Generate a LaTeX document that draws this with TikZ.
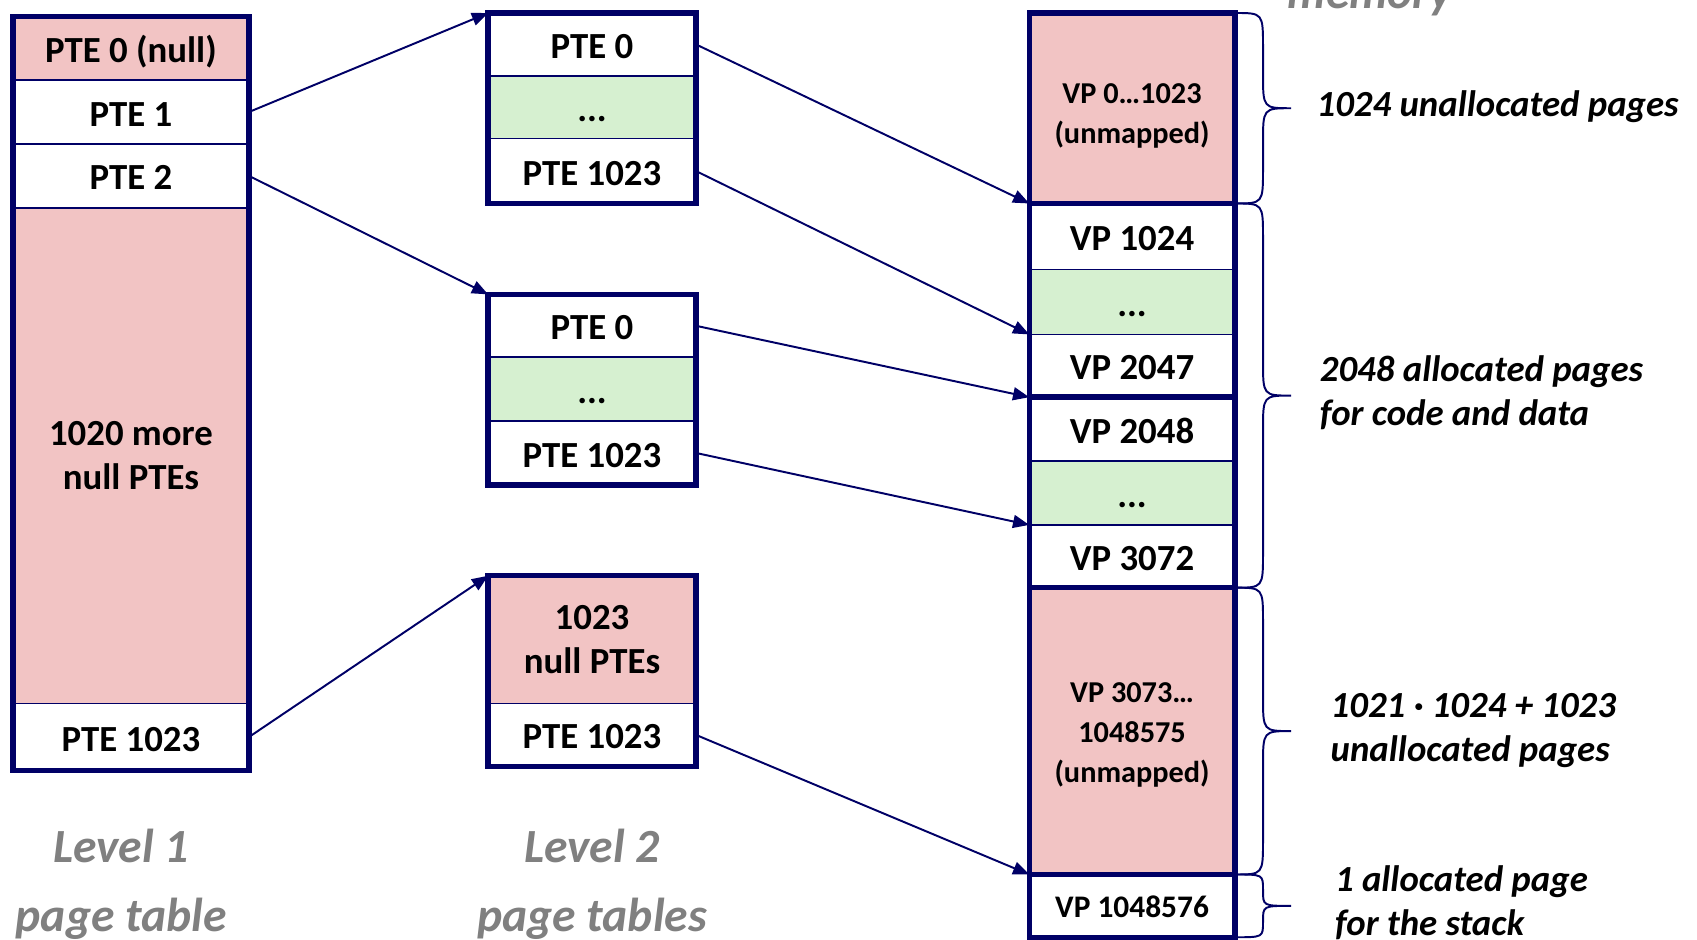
\documentclass[tikz,border=0pt]{standalone}
\usepackage{fontspec}
\setmainfont{Carlito}
\usetikzlibrary{arrows.meta,calc}

\definecolor{navy}{RGB}{0,0,102}
\definecolor{nullpink}{RGB}{242,196,196}
\definecolor{okgreen}{RGB}{214,240,208}
\definecolor{capgray}{RGB}{128,128,128}

% curly brace to the right of a column segment: #1 top anchor, #2 bottom anchor, #3 end radius
\newcommand{\curlybrace}[3]{%
  \draw[brace] let \p1=#1, \p2=#2, \p3=($#1!0.5!#2$) in
    (\x1,\y1) .. controls (\x1+26pt,\y1) .. (\x1+26pt,\y1-#3)
    -- (\x1+26pt,\y3+#3)
    .. controls (\x1+26pt,\y3) .. (\x1+52pt,\y3)
    .. controls (\x1+26pt,\y3) .. (\x1+26pt,\y3-#3)
    -- (\x1+26pt,\y2+#3)
    .. controls (\x1+26pt,\y2) .. (\x2,\y2);}

\begin{document}
\begin{tikzpicture}[x=1pt,y=-1pt,
  cell/.style={draw=navy, line width=1.6pt, inner sep=0pt, outer sep=0pt,
    align=center, text=black, font=\fontsize{34}{40}\selectfont\bfseries},
  oneline/.style={text height=28pt, text depth=2pt},
  l1cell/.style={cell, minimum width=218pt},
  l2cell/.style={cell, minimum width=192pt},
  vpcell/.style={cell, minimum width=190pt},
  smalltext/.style={font=\fontsize{28}{37}\selectfont\bfseries},
  frame/.style={draw=navy, line width=5pt},
  ptr/.style={draw=navy, line width=1.8pt, -{Triangle[length=15pt,width=12pt]}},
  brace/.style={draw=navy, line width=1.8pt},
  note/.style={font=\fontsize{34}{40}\selectfont\bfseries\itshape, align=left, anchor=west},
  caption/.style={font=\fontsize{44}{62}\selectfont\bfseries\itshape, text=capgray, anchor=base},
]
\fill[white] (0,0) rectangle (1568,868);
\useasboundingbox (0,0) rectangle (1568,868);
\clip (0,0) rectangle (1568,868);

% Level 1 page table
\node[l1cell, oneline, fill=nullpink, minimum height=59pt] (l1a) at (121,44.5) {PTE 0 (null)};
\node[l1cell, oneline, minimum height=59pt] (l1b) at (121,103.5) {PTE 1};
\node[l1cell, oneline, minimum height=59pt] (l1c) at (121,162.5) {PTE 2};
\node[l1cell, fill=nullpink, minimum height=458pt] (l1d) at (121,421) {1020 more\\null PTEs};
\node[l1cell, oneline, minimum height=62pt] (l1e) at (121,681) {PTE 1023};
\draw[frame] (l1a.north west) rectangle (l1e.south east);

% Level 2 page tables
\node[l2cell, oneline, minimum height=58pt] (t1a) at (547,41) {PTE 0};
\node[l2cell, oneline, fill=okgreen, minimum height=58pt] (t1b) at (547,99) {...};
\node[l2cell, oneline, minimum height=60pt] (t1c) at (547,158) {PTE 1023};
\draw[frame] (t1a.north west) rectangle (t1c.south east);

\node[l2cell, oneline, minimum height=58pt] (t2a) at (547,301) {PTE 0};
\node[l2cell, oneline, fill=okgreen, minimum height=59pt] (t2b) at (547,359.5) {...};
\node[l2cell, oneline, minimum height=59pt] (t2c) at (547,418.5) {PTE 1023};
\draw[frame] (t2a.north west) rectangle (t2c.south east);

\node[l2cell, fill=nullpink, minimum height=118pt] (t3a) at (547,591) {1023\\null PTEs};
\node[l2cell, oneline, minimum height=58pt] (t3b) at (547,679) {PTE 1023};
\draw[frame] (t3a.north west) rectangle (t3b.south east);

% Virtual memory
\node[vpcell, smalltext, fill=nullpink, minimum height=176pt] (m0) at (1046,100) {\rule{0pt}{33pt}VP 0…1023\\(unmapped)};
\node[vpcell, oneline, minimum height=61pt] (m1) at (1046,218.5) {VP 1024};
\node[vpcell, oneline, fill=okgreen, minimum height=60pt] (m2) at (1046,279) {...};
\node[vpcell, oneline, minimum height=58pt] (m3) at (1046,338) {VP 2047};
\node[vpcell, oneline, minimum height=59pt] (m4) at (1046,396.5) {VP 2048};
\node[vpcell, oneline, fill=okgreen, minimum height=59pt] (m5) at (1046,455.5) {...};
\node[vpcell, oneline, minimum height=58pt] (m6) at (1046,514) {VP 3072};
\node[vpcell, smalltext, fill=nullpink, minimum height=265pt] (m7) at (1046,675.5) {\rule{0pt}{26pt}VP 3073…\\1048575\\(unmapped)};
\node[vpcell, font=\fontsize{29}{36}\selectfont\bfseries, text height=24pt, text depth=2pt, minimum height=58pt] (m8) at (1046,837) {VP 1048576};
\draw[frame] (m0.north west) rectangle (m0.south east);
\draw[frame] (m1.north west) rectangle (m3.south east);
\draw[frame] (m4.north west) rectangle (m6.south east);
\draw[frame] (m7.north west) rectangle (m7.south east);
\draw[frame] (m8.north west) rectangle (m8.south east);

% Pointers
\draw[ptr] (l1b.east) -- (t1a.north west);
\draw[ptr] (l1c.east) -- (t2a.north west);
\draw[ptr] (l1e.east) -- (t3a.north west);
\draw[ptr] (t1a.east) -- (m1.north west);
\draw[ptr] (t1c.east) -- (m3.north west);
\draw[ptr] (t2a.east) -- (m4.north west);
\draw[ptr] (t2c.east) -- (m6.north west);
\draw[ptr] (t3b.east) -- (m8.north west);

% Braces and their notes
\curlybrace{(m0.north east)}{(m0.south east)}{32pt}
\curlybrace{(m1.north east)}{(m6.south east)}{32pt}
\curlybrace{(m7.north east)}{(m7.south east)}{32pt}
\curlybrace{(m8.north east)}{(m8.south east)}{14pt}

\node[note] (n1) at (1213,99) {1024 unallocated pages};
\node[note] (n2) at (1216,363) {2048 allocated pages\\for code and data};
\node[note] (n3) at (1226,675) {1021 · 1024 + 1023\\unallocated pages};
\node[note] (n4) at (1230,834) {1 allocated page\\for the stack};

% Captions
\node[caption] (c1a) at (112,797) {Level 1};
\node[caption] (c1b) at (112,861) {page table};
\node[caption] (c2a) at (547,797) {Level 2};
\node[caption] (c2b) at (547,861) {page tables};
\node[caption] (c3) at (1266,8) {memory};
\end{tikzpicture}
\end{document}
